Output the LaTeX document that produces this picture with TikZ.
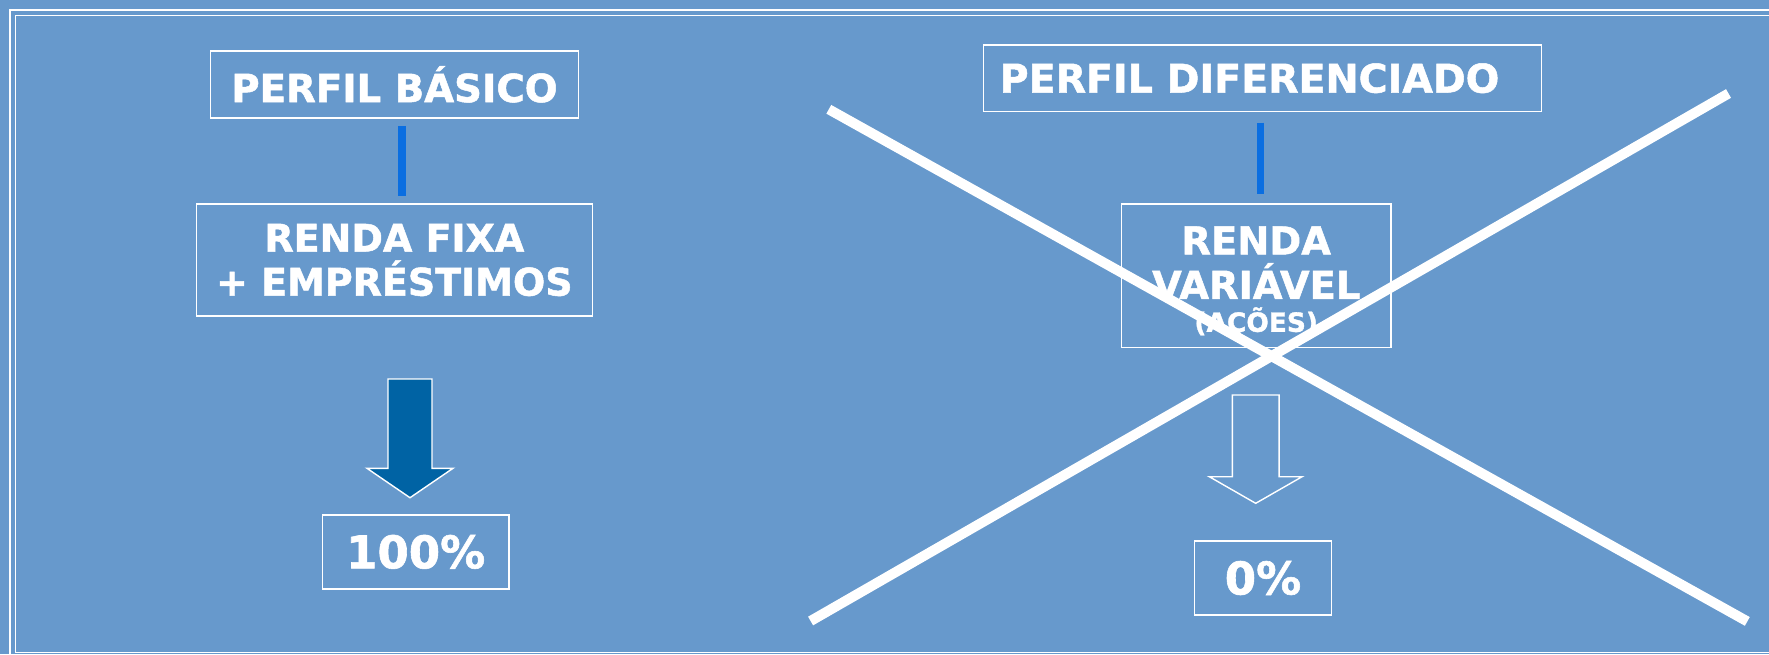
\documentclass[tikz,border=0pt]{standalone}
\usepackage{fontspec}
\setmainfont{DejaVu Sans}[BoldFeatures={FakeBold=1.3}]
\definecolor{fundo}{RGB}{103,153,204}
\definecolor{azulbarra}{RGB}{10,110,225}
\definecolor{azulseta}{RGB}{0,99,164}

\begin{document}
\begin{tikzpicture}[x=0.025cm, y=-0.025cm,
  caixa/.style={rectangle, draw=white, line width=0.04cm, inner sep=0pt, text=white, align=center},
  barra/.style={draw=azulbarra, line width=0.19cm},
  seta/.style={draw=white, line width=0.035cm},
  risco/.style={draw=white, line width=0.25cm},
  moldura/.style={draw=white, line width=0.043cm}]

\useasboundingbox (0,0) rectangle (1769,654);
\clip (0,0) rectangle (1769,654);
\fill[fundo] (0,0) rectangle (1769,654);
\draw[moldura] (10.3,10.3) rectangle (1800,680);
\draw[moldura] (15.6,15.6) rectangle (1790,652.5);

\node (basico) [caixa, minimum width=9.2cm, minimum height=1.67cm, font=\bfseries\fontsize{27.5}{33}\selectfont] at (394.5,84.4) {PERFIL BÁSICO};
\node (fixa) [caixa, minimum width=9.9cm, minimum height=2.785cm, font=\bfseries\fontsize{27}{31.3}\selectfont] at (394.4,260) {RENDA FIXA\\+ EMPRÉSTIMOS};
\node (cem) [caixa, minimum width=4.66cm, minimum height=1.84cm, font=\bfseries\fontsize{32}{36}\selectfont] at (415.7,551.9) {100\%};

\node (dif) [caixa, minimum width=13.94cm, minimum height=1.66cm, font=\bfseries\fontsize{28.1}{33}\selectfont] at (1262.5,78.2) {PERFIL DIFERENCIADO\hspace*{0.65cm}};
\node (var) [caixa, minimum width=6.725cm, minimum height=3.58cm, font=\bfseries\fontsize{27.3}{31.5}\selectfont] at (1256.2,275.7) {\rule{0pt}{1cm}RENDA\\VARIÁVEL\\[-8pt]{\fontsize{18.8}{20}\selectfont (AÇÕES)}};
\node (zero) [caixa, minimum width=3.425cm, minimum height=1.85cm, font=\bfseries\fontsize{32}{36}\selectfont] at (1263,578) {0\%};

\draw[barra, shorten <=0.18cm, shorten >=0.18cm] ([xshift=0.19cm]basico.south) -- ([xshift=0.19cm]basico.south |- fixa.north);
\draw[barra, shorten <=0.26cm, shorten >=0.24cm] ([xshift=-0.05cm]dif.south) -- ([xshift=-0.05cm]dif.south |- var.north);

% setas
\coordinate (setacem) at (388,379);
\draw[seta, fill=azulseta] (setacem) -- ++(0,89.3) -- ++(-21,0) -- ++(43,29.4) -- ++(43,-29.4) -- ++(-21,0) -- ++(0,-89.3) -- cycle;
\coordinate (setazero) at (1232.3,395);
\draw[seta] (setazero) -- ++(0,81.7) -- ++(-23,0) -- ++(46.4,26.6) -- ++(46.4,-26.6) -- ++(-23,0) -- ++(0,-81.7) -- cycle;

% X
\coordinate (xa1) at (828.8,109.3);
\coordinate (xa2) at (1747.3,621.4);
\coordinate (xb1) at (810.6,621);
\coordinate (xb2) at (1728.5,93.5);
\draw[risco] (xa1) -- (xa2);
\draw[risco] (xb1) -- (xb2);

\end{tikzpicture}
\end{document}
